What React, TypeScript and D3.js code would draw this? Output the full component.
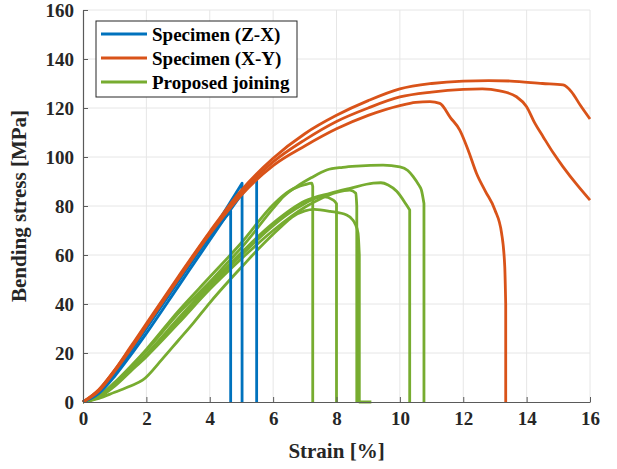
import React, { useEffect, useRef } from 'react';
import * as d3 from 'd3';

type Pt = [number, number];

// Specimen (Z-X)
const zx1: Pt[] = [[0, 0], [0.5, 4.5], [1, 12.5], [1.5, 21.5], [2, 31], [3, 50], [4, 67.5], [4.66, 78], [4.66, 0]];
const zx2: Pt[] = [[0, 0], [0.5, 4], [1, 11.5], [1.5, 20.5], [2, 30], [3, 49], [4, 68], [4.5, 78.5], [5.02, 89.3], [5.02, 0]];
const zx3: Pt[] = [[0, 0], [0.5, 3.5], [1, 10.5], [1.5, 19], [2, 28], [3, 47], [4, 66], [5, 84.5], [5.48, 92], [5.48, 0]];

// Specimen (X-Y)
const xy1: Pt[] = [[0, 0], [0.5, 5], [1, 13], [1.5, 22.5], [2, 32], [3, 51], [4, 69.5], [5, 86.5], [6, 99.5], [7, 109.5],
  [8, 117], [9, 123], [10, 127.8], [11, 130], [12, 131], [12.8, 131.2], [13.5, 131], [14.5, 130], [15.15, 129.4],
  [15.41, 126.7], [15.7, 121], [16, 115.5]];
const xy2: Pt[] = [[0, 0], [0.5, 5], [1, 13], [1.5, 22], [2, 31.5], [3, 50.5], [4, 69], [5, 85.5], [6, 98], [7, 107],
  [8, 114.5], [9, 120], [10, 124.5], [11, 126.5], [12, 127.6], [12.6, 127.8], [13.15, 127], [13.68, 124.6], [14, 120.5],
  [14.25, 114], [14.52, 108.3], [14.85, 101.5], [15.15, 96], [15.6, 88.5], [16, 82.4]];
const xy3: Pt[] = [[0, 0], [0.5, 4.5], [1, 12.5], [1.5, 21.5], [2, 31], [3, 50], [4, 68.5], [5, 84.5], [6, 96.5], [7, 104.5],
  [8, 111.5], [9, 117], [10, 121], [10.5, 122.3], [10.95, 122.6], [11.26, 121.9], [11.6, 116], [11.89, 111], [12.15, 103],
  [12.42, 93.3], [12.7, 86], [13.0, 78.4], [13.21, 68.9], [13.31, 55.2], [13.34, 40], [13.34, 0]];

// Proposed joining
const pj1: Pt[] = [[0, 0], [0.5, 2.5], [1, 8], [1.5, 14.5], [2, 21.5], [3, 37], [4, 51], [5, 65], [6, 80.5], [6.5, 86],
  [7, 88.7], [7.22, 89.3], [7.25, 88], [7.25, 0]];
const pj2: Pt[] = [[0, 0], [0.4, 1.5], [0.8, 5], [1.2, 10], [1.6, 15.5], [2, 21], [3, 36], [4, 49], [4.64, 58], [5, 63],
  [6, 79], [6.32, 83.8], [6.74, 87.9], [7.2, 91.5], [7.69, 94.7], [8.2, 95.8], [8.64, 96.3], [9.47, 96.7], [10, 96],
  [10.25, 94.5], [10.42, 92], [10.6, 88.5], [10.68, 86.5], [10.76, 81], [10.76, 0]];
const pj3: Pt[] = [[0, 0], [0.5, 2], [1, 7], [1.5, 13], [2, 19.5], [3, 34], [4, 48], [5, 61], [6, 73], [7, 82], [7.8, 85.2],
  [8.43, 87.2], [9.16, 89.3], [9.4, 89.5], [9.63, 88.6], [9.9, 86], [10.21, 80.4], [10.31, 78.4], [10.31, 0]];
const pj4: Pt[] = [[0, 0], [0.5, 2], [1, 7], [1.5, 13], [2, 19], [3, 33], [4, 47], [5, 60], [6, 72], [6.5, 77], [7, 81],
  [7.3, 83], [7.58, 83.8], [7.9, 82.4], [8.0, 81], [8.0, 0]];
const pj5: Pt[] = [[0, 0], [0.5, 2], [1, 6.5], [1.5, 12.5], [2, 18.5], [3, 32], [4, 46], [5, 58.5], [6, 70], [7, 79.5],
  [7.5, 83], [8, 85.5], [8.42, 86.5], [8.61, 85.2], [8.64, 80], [8.64, 0]];
const pj6: Pt[] = [[0, 0], [0.5, 1.5], [1, 4], [1.5, 6.5], [1.89, 9], [2.5, 17.5], [3, 25], [3.5, 32.5], [4, 40.5],
  [4.63, 49.8], [5, 55], [5.5, 62], [6, 68.5], [6.21, 71], [6.6, 75.5], [7, 78], [7.3, 78.6], [7.8, 77.8], [8.32, 76.3],
  [8.5, 74.5], [8.58, 72.9], [8.68, 68.9], [8.72, 60], [8.72, 0], [9.1, 0]];

const xTicks = [0, 2, 4, 6, 8, 10, 12, 14, 16];
const yTicks = [0, 20, 40, 60, 80, 100, 120, 140, 160];

const seriesNames = ['Specimen (Z-X)', 'Specimen (X-Y)', 'Proposed joining'];
const seriesColors = ['#0072BD', '#D95319', '#77AC30'];
const seriesCurves = [[zx1, zx2, zx3], [xy1, xy2, xy3], [pj1, pj2, pj3, pj4, pj5, pj6]];
const drawOrder = [2, 0, 1];

const App = () => {
  const svgRef = useRef<SVGSVGElement>(null);

  useEffect(() => {
    const margin = { top: 10, right: 27, bottom: 67, left: 83 },
      width = 617 - margin.left - margin.right,
      height = 469 - margin.top - margin.bottom;

    const root = d3.select(svgRef.current);
    root.selectAll('*').remove();
    const svg = root.append('g').attr('transform', `translate(${margin.left},${margin.top})`);

    const x = d3.scaleLinear().domain([0, 16]).range([0, width]);
    const y = d3.scaleLinear().domain([0, 160]).range([height, 0]);
    const font = '"Liberation Serif", "Times New Roman", serif';

    // grid
    svg.append('g').selectAll('line').data(xTicks.slice(1)).join('line')
      .attr('x1', (d) => x(d)).attr('x2', (d) => x(d)).attr('y1', 0).attr('y2', height)
      .attr('stroke', '#e6e6e6').attr('stroke-width', 1);
    svg.append('g').selectAll('line').data(yTicks.slice(1)).join('line')
      .attr('x1', 0).attr('x2', width).attr('y1', (d) => y(d)).attr('y2', (d) => y(d))
      .attr('stroke', '#e6e6e6').attr('stroke-width', 1);

    const smooth = d3.line<Pt>().x((d) => x(d[0])).y((d) => y(d[1])).curve(d3.curveMonotoneX);
    const straight = d3.line<Pt>().x((d) => x(d[0])).y((d) => y(d[1]));

    // smooth loading part, then straight fracture drop (where x stops increasing)
    const pathOf = (pts: Pt[]) => {
      let i = 1;
      while (i < pts.length && pts[i][0] > pts[i - 1][0]) i++;
      let d = smooth(pts.slice(0, i)) || '';
      if (i < pts.length) d += (straight(pts.slice(i - 1)) || '').replace(/^M/, 'L');
      return d;
    };

    drawOrder.forEach((i) => {
      svg.append('g').selectAll('path').data(seriesCurves[i]).join('path')
        .attr('d', (d) => pathOf(d))
        .attr('fill', 'none')
        .attr('stroke', seriesColors[i])
        .attr('stroke-width', 2.8)
        .attr('stroke-linejoin', 'round');
    });

    // axes
    const xAxis = svg.append('g').attr('transform', `translate(0,${height})`)
      .call(d3.axisBottom(x).tickValues(xTicks).tickSizeInner(-5).tickSizeOuter(0).tickPadding(10));
    const yAxis = svg.append('g')
      .call(d3.axisLeft(y).tickValues(yTicks).tickSizeInner(-5).tickSizeOuter(0).tickPadding(9));
    [xAxis, yAxis].forEach((ax) => {
      ax.select('.domain').attr('stroke', '#5a5a5a').attr('stroke-width', 1.2);
      ax.selectAll('.tick line').attr('stroke', '#5a5a5a');
      ax.selectAll('.tick text').attr('fill', '#262626')
        .style('font-family', font).style('font-size', '19px').style('font-weight', 'bold');
    });

    svg.append('text')
      .attr('x', width / 2).attr('y', height + 56)
      .attr('text-anchor', 'middle').attr('fill', '#262626')
      .style('font-family', font).style('font-size', '21px').style('font-weight', 'bold')
      .text('Strain [%]');
    svg.append('text')
      .attr('transform', `translate(${-57},${height / 2}) rotate(-90)`)
      .attr('text-anchor', 'middle').attr('fill', '#262626')
      .style('font-family', font).style('font-size', '21px').style('font-weight', 'bold')
      .text('Bending stress [MPa]');

    // legend
    const lg = svg.append('g').attr('transform', 'translate(13,11)');
    lg.append('rect').attr('width', 201).attr('height', 76)
      .attr('fill', 'white').attr('stroke', '#262626').attr('stroke-width', 1);
    seriesNames.forEach((name, i) => {
      const cy = 13 + i * 24;
      lg.append('line').attr('x1', 5).attr('x2', 51).attr('y1', cy).attr('y2', cy)
        .attr('stroke', seriesColors[i]).attr('stroke-width', 3);
      lg.append('text').attr('x', 56).attr('y', cy + 6.5).attr('fill', '#000')
        .style('font-family', font).style('font-size', '19px').style('font-weight', 'bold')
        .text(name);
    });
  }, []);

  return <svg ref={svgRef} width={617} height={469} style={{ position: 'absolute', left: 0, top: 0 }}></svg>;
};

export default App;
